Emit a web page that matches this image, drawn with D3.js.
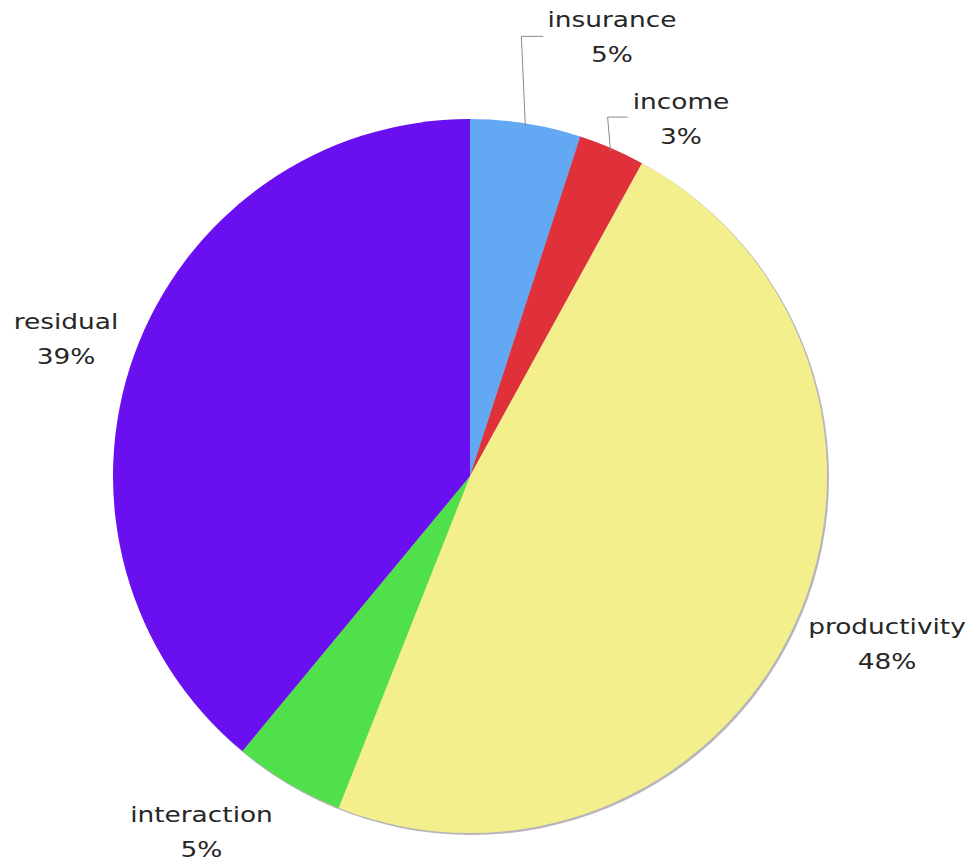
<!DOCTYPE html>
<html>
<head>
<meta charset="utf-8">
<script src="https://cdn.jsdelivr.net/npm/d3@7"></script>
<style>
  html, body { margin: 0; padding: 0; background: #ffffff; }
  svg { display: block; }
  text { font-family: "DejaVu Sans", Verdana, sans-serif; fill: #262626; }
</style>
</head>
<body>
<svg id="chart" width="972" height="861"></svg>
<script>
// Share of each component, in percent, clockwise from 12 o'clock
const categories = ["insurance", "income", "productivity", "interaction", "residual"];
const shares = [5, 3, 48, 5, 39];
const sliceColors = ["#62a8f2", "#e0313a", "#f2ef8c", "#4fe04c", "#6a10f0"];

const width = 972, height = 861;
const cx = 470, cy = 476, radius = 357;

const svg = d3.select("#chart");
const g = svg.append("g").attr("transform", `translate(${cx},${cy})`);

const pie = d3.pie().sort(null).value(d => d.value);
const arcs = pie(categories.map((c, i) => ({ name: c, value: shares[i], color: sliceColors[i] })));
const arc = d3.arc().innerRadius(0).outerRadius(radius);

// soft grey rim along the lower right edge
g.append("circle")
  .attr("cx", 1.5).attr("cy", 1.5).attr("r", radius + 0.5)
  .attr("fill", "#b8b4bc");

g.selectAll("path.slice")
  .data(arcs)
  .enter().append("path")
  .attr("class", "slice")
  .attr("d", arc)
  .attr("fill", d => d.data.color);

// label placement: mid-angle on an outer ring, small slices pulled up with leaders
const mid = d => (d.startAngle + d.endAngle) / 2;
const polar = (a, r) => [Math.sin(a) * r, -Math.cos(a) * r];
const fontSize = 22, widen = 1.2;

const leaderLayout = {
  insurance: { lift: [-4, -90], run: 22, label: [142, -439] },
  income:    { lift: [-3, -34], run: 20, label: [211, -357] }
};
const ringLayout = {
  productivity: { r: 452, shift: [8, -24] },
  interaction:  { r: 445, shift: [-42, -27] },
  residual:     { r: 424, shift: [-5, 7] }
};

arcs.forEach(d => {
  const name = d.data.name;
  let lx, ly;
  if (leaderLayout[name]) {
    const L = leaderLayout[name];
    const p0 = polar(mid(d), radius - 3);
    const p1 = [p0[0] + L.lift[0], p0[1] + L.lift[1]];
    const p2 = [p1[0] + L.run, p1[1]];
    g.append("path")
      .attr("d", d3.line()([p0, p1, p2]))
      .attr("fill", "none")
      .attr("stroke", "#8a8a8a")
      .attr("stroke-width", 1);
    [lx, ly] = L.label;
  } else {
    const R = ringLayout[name];
    const p = polar(mid(d), R.r);
    lx = p[0] + R.shift[0];
    ly = p[1] + R.shift[1];
  }
  // wide lettering: scale horizontally around the label centre
  const t = g.append("g")
    .attr("transform", `translate(${lx},${ly}) scale(${widen},1)`)
    .append("text")
    .attr("text-anchor", "middle")
    .attr("font-size", fontSize);
  t.append("tspan").attr("x", 0).attr("y", -10).text(name);
  t.append("tspan").attr("x", 0).attr("y", 25).text(d3.format(".0f")(d.data.value) + "%");
});
</script>
</body>
</html>
